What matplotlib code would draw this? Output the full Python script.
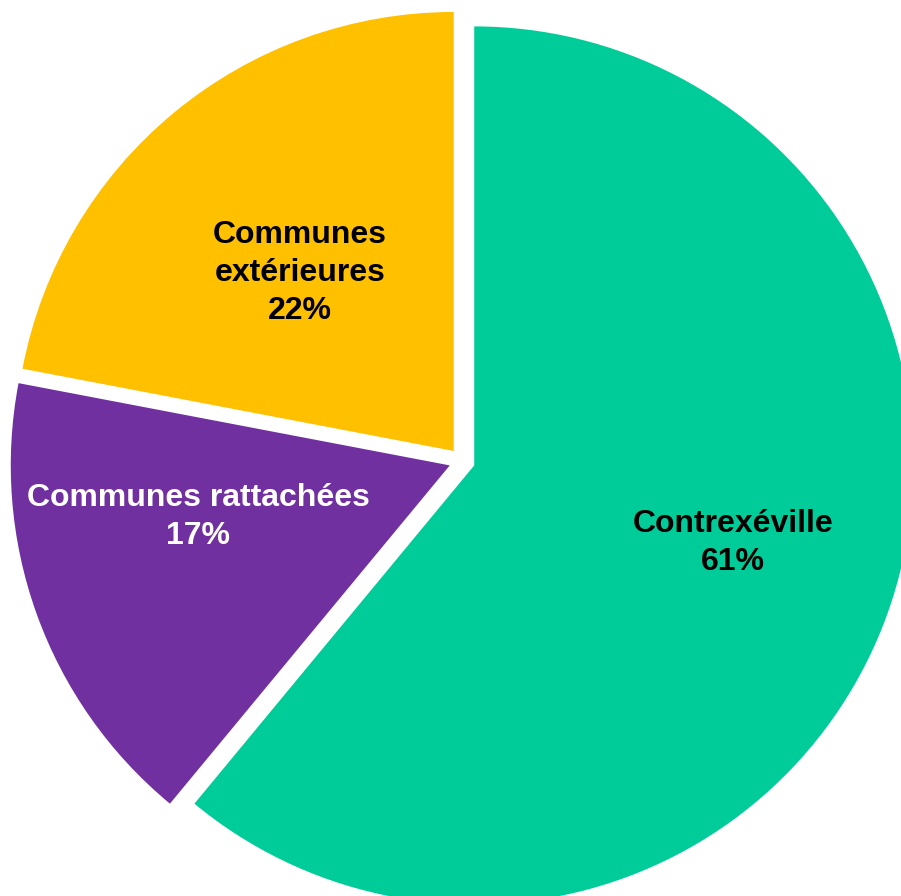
import matplotlib
matplotlib.use("Agg")
import matplotlib.pyplot as plt

categories = ["Contrexéville", "Communes rattachées", "Communes extérieures"]
values = [61, 17, 22]
colors = ["#00CC99", "#7030A0", "#FFC000"]
text_colors = ["black", "white", "black"]
label_texts = ["Contrexéville\n61%", "Communes rattachées\n17%", "Communes\nextérieures\n22%"]
label_pos = [(733, 896 - 543), (198, 896 - 517), (300, 896 - 273)]

W, H = 901, 896
fig = plt.figure(figsize=(W / 100, H / 100), dpi=100)
ax = fig.add_axes([0, 0, 1, 1])

ax.pie(values, colors=colors, startangle=90, counterclock=False,
       explode=[13] * 3, center=(462, H - 461), radius=439,
       wedgeprops=dict(linewidth=0))
ax.set_xlim(0, W)
ax.set_ylim(0, H)
ax.set_aspect("equal")
ax.axis("off")

for t, (x, y), c in zip(label_texts, label_pos, text_colors):
    ax.text(x, y, t, ha="center", va="center", color=c, fontsize=23,
            fontweight="bold", family="Liberation Sans", linespacing=1.35)

fig.savefig("out.png", dpi=100)
